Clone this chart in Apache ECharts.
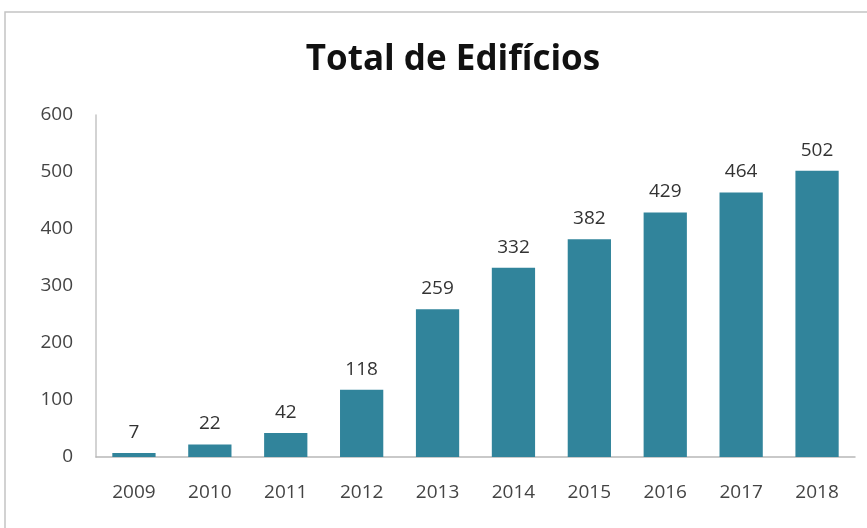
<!DOCTYPE html>
<html>
<head>
<meta charset="utf-8">
<script src="https://cdn.jsdelivr.net/npm/echarts@6/dist/echarts.min.js"></script>
<style>
html,body{margin:0;padding:0;background:#fff;}
#chart{width:867px;height:528px;}
</style>
</head>
<body>
<div id="chart"></div>
<script>
const titleText = "Total de Edifícios";
const categories = ["2009","2010","2011","2012","2013","2014","2015","2016","2017","2018"];
const values = [7, 22, 42, 118, 259, 332, 382, 429, 464, 502];
const yTicks = [0, 100, 200, 300, 400, 500, 600];

const chart = echarts.init(document.getElementById('chart'), null, {renderer: 'canvas'});
chart.setOption({
  backgroundColor: '#ffffff',
  animation: false,
  graphic: [{
    type: 'rect',
    shape: {x: 5, y: 12, width: 900, height: 600},
    style: {fill: 'none', stroke: '#c4c4c4', lineWidth: 1.5},
    silent: true
  }],
  title: {
    text: titleText,
    left: 448,
    textAlign: 'center',
    top: 38,
    textStyle: {fontFamily: 'Open Sans', fontWeight: 'bold', fontSize: 35, color: '#111111'}
  },
  grid: {left: 96, right: 12, top: 115, bottom: 71, containLabel: false},
  xAxis: {
    type: 'category',
    data: categories,
    axisLine: {show: true, lineStyle: {color: '#b8b8b8', width: 1.5}},
    axisTick: {show: false},
    axisLabel: {fontFamily: 'Open Sans', fontSize: 19, color: '#444444', margin: 26}
  },
  yAxis: {
    type: 'value',
    min: yTicks[0],
    max: yTicks[yTicks.length - 1],
    interval: yTicks[1] - yTicks[0],
    axisLine: {show: true, lineStyle: {color: '#c4c4c4', width: 1.5}},
    axisTick: {show: false},
    splitLine: {show: false},
    axisLabel: {fontFamily: 'Open Sans', fontSize: 19, color: '#444444', margin: 23}
  },
  series: [{
    type: 'bar',
    data: values,
    barWidth: '57%',
    itemStyle: {color: '#31849B'},
    label: {
      show: true,
      position: 'top',
      distance: 11,
      fontFamily: 'Open Sans',
      fontSize: 19,
      color: '#333333'
    }
  }]
});
</script>
</body>
</html>
